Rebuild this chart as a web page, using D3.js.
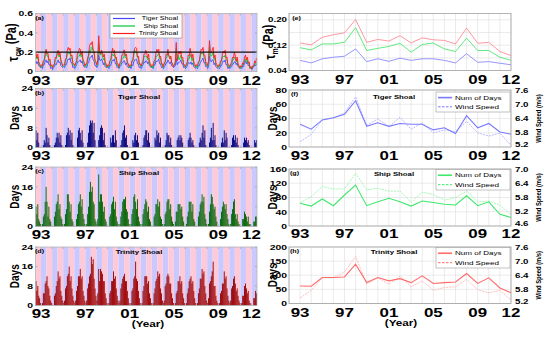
<!DOCTYPE html>
<html><head><meta charset="utf-8">
<script src="https://cdn.jsdelivr.net/npm/d3@7/dist/d3.min.js"></script>
<style>body{margin:0;background:#fff}</style>
</head><body><svg id="c" width="550" height="338"></svg>
<script>
// ---------------- DATA ----------------
const years = [1993,1994,1995,1996,1997,1998,1999,2000,2001,2002,2003,2004,2005,2006,2007,2008,2009,2010,2011,2012];
const tickYears = [1993,1997,2001,2005,2009,2012];
const tickLabels = ["93","97","01","05","09","12"];
const shoals = ["Tiger Shoal","Ship Shoal","Trinity Shoal"];

// monthly mean bottom stress (Pa), Jan..Dec of each year 1993-2012
const tauTiger = [
.11,.08,.10,.06,.05,.04,.05,.03,.07,.07,.11,.12,
.09,.11,.07,.07,.03,.04,.02,.04,.05,.08,.07,.10,
.12,.09,.10,.06,.05,.04,.05,.04,.07,.07,.11,.13,
.12,.14,.09,.09,.04,.05,.03,.05,.07,.10,.10,.11,
.12,.09,.11,.07,.05,.04,.05,.04,.08,.09,.13,.15,
.15,.17,.12,.11,.06,.06,.04,.06,.17,.12,.11,.13,
.11,.07,.09,.05,.04,.04,.05,.03,.06,.06,.10,.12,
.11,.13,.08,.08,.04,.05,.03,.05,.06,.09,.09,.11,
.11,.07,.09,.05,.04,.04,.05,.03,.07,.06,.10,.12,
.12,.13,.08,.08,.04,.05,.03,.05,.07,.10,.09,.11,
.11,.08,.10,.06,.05,.04,.05,.03,.07,.07,.11,.10,
.11,.13,.08,.08,.04,.05,.03,.05,.06,.09,.09,.12,
.10,.08,.10,.06,.05,.04,.05,.06,.14,.07,.09,.09,
.10,.12,.08,.08,.04,.05,.03,.04,.06,.09,.09,.08,
.10,.07,.09,.05,.04,.03,.04,.03,.06,.06,.09,.11,
.12,.14,.09,.09,.05,.06,.03,.05,.16,.11,.10,.12,
.12,.07,.09,.05,.04,.03,.04,.03,.06,.06,.09,.11,
.10,.12,.07,.07,.03,.05,.03,.04,.05,.08,.08,.10,
.10,.07,.09,.05,.04,.03,.04,.03,.06,.05,.09,.11,
.08,.10,.06,.07,.03,.04,.02,.04,.05,.07,.06,.08];
const tauShip = [
.17,.13,.15,.08,.07,.04,.06,.05,.10,.11,.16,.22,
.16,.16,.11,.12,.05,.06,.04,.06,.07,.12,.13,.18,
.19,.15,.17,.10,.08,.05,.06,.06,.11,.13,.19,.20,
.18,.20,.14,.14,.07,.07,.05,.08,.09,.15,.16,.16,
.19,.15,.17,.10,.08,.05,.07,.06,.12,.15,.22,.19,
.25,.26,.20,.18,.10,.09,.06,.11,.29,.18,.17,.21,
.16,.12,.14,.08,.06,.04,.06,.05,.09,.10,.16,.18,
.16,.18,.13,.13,.06,.06,.04,.07,.08,.13,.14,.14,
.19,.14,.15,.09,.07,.04,.06,.05,.10,.11,.17,.22,
.20,.20,.14,.14,.07,.07,.05,.08,.09,.15,.16,.16,
.15,.12,.14,.07,.06,.04,.06,.04,.09,.10,.15,.16,
.17,.19,.13,.14,.07,.07,.04,.08,.09,.14,.15,.19,
.16,.15,.16,.10,.08,.05,.07,.09,.24,.13,.17,.12,
.14,.17,.12,.12,.06,.06,.04,.07,.08,.13,.13,.18,
.15,.11,.14,.07,.06,.04,.06,.04,.09,.10,.15,.19,
.18,.20,.15,.14,.07,.07,.05,.09,.26,.16,.16,.17,
.20,.12,.14,.07,.06,.04,.06,.05,.09,.10,.15,.16,
.15,.17,.12,.12,.05,.06,.04,.07,.07,.12,.12,.15,
.13,.10,.12,.06,.05,.03,.05,.04,.08,.07,.12,.13,
.10,.12,.08,.09,.03,.05,.03,.05,.05,.08,.08,.10];
const tauTrinity = [
.19,.14,.18,.10,.08,.05,.07,.06,.11,.12,.19,.23,
.18,.19,.12,.13,.06,.07,.04,.07,.08,.15,.14,.20,
.22,.17,.20,.12,.09,.06,.07,.07,.13,.14,.22,.25,
.22,.24,.16,.17,.09,.08,.06,.09,.11,.19,.19,.24,
.23,.17,.21,.12,.10,.06,.08,.08,.14,.17,.26,.29,
.28,.31,.22,.21,.12,.10,.07,.12,.37,.21,.18,.22,
.20,.15,.18,.10,.08,.05,.07,.06,.11,.12,.19,.24,
.19,.22,.14,.15,.08,.08,.05,.09,.10,.17,.17,.22,
.22,.16,.18,.10,.08,.05,.07,.06,.11,.12,.20,.24,
.25,.24,.15,.16,.08,.08,.06,.09,.11,.18,.18,.22,
.19,.14,.18,.10,.08,.05,.07,.06,.11,.12,.19,.23,
.20,.23,.15,.16,.08,.08,.05,.09,.10,.18,.17,.23,
.16,.13,.16,.09,.08,.05,.07,.10,.30,.11,.18,.21,
.18,.21,.14,.15,.07,.07,.05,.08,.10,.17,.16,.24,
.19,.14,.18,.10,.08,.05,.07,.06,.10,.11,.18,.23,
.22,.25,.17,.17,.09,.09,.06,.11,.32,.20,.19,.22,
.25,.14,.17,.09,.07,.05,.07,.06,.11,.11,.18,.21,
.19,.22,.14,.15,.07,.07,.05,.08,.09,.15,.14,.20,
.16,.11,.15,.08,.06,.04,.06,.05,.09,.08,.15,.17,
.12,.15,.09,.10,.04,.05,.03,.06,.06,.11,.09,.14];

// monthly number of days above threshold, Jan..Dec 1993-2012
const daysTiger = [
7,3,6,2,0,0,0,0,1,3,2,8,
5,2,4,1,0,0,0,0,1,2,4,6,
4,6,2,5,1,0,0,0,1,5,6,8,
5,7,3,6,1,0,0,0,0,4,7,8,
6,3,7,2,0,0,0,0,2,6,9,11,
10,11,6,10,3,0,0,0,3,5,8,9,
8,3,6,1,0,0,0,0,0,4,2,5,
5,2,7,3,0,0,0,0,1,3,6,7,
9,4,5,1,0,0,0,0,0,3,2,5,
6,3,5,2,0,0,0,0,1,4,5,7,
7,3,6,2,0,0,0,0,0,4,3,7,
5,6,2,4,0,0,0,0,1,3,6,5,
5,2,4,1,0,0,0,0,0,3,4,5,
3,5,4,2,0,0,0,0,0,3,4,6,
4,2,3,1,0,0,0,0,0,2,4,3,
6,9,4,7,1,0,0,0,2,4,8,3,
10,3,5,1,0,0,0,0,0,2,4,2,
7,3,6,4,0,0,0,0,1,4,5,3,
5,2,4,1,0,0,0,0,0,2,4,3,
4,2,3,1,0,0,0,0,0,3,2,3];
const daysShip = [
8,5,9,3,2,1,0,1,4,5,10,16,
10,4,8,3,2,0,0,0,4,6,9,10,
13,7,9,4,3,1,0,1,5,7,13,13,
10,6,9,3,2,0,0,0,3,5,9,10,
13,8,11,5,3,1,0,1,5,8,14,18,
14,16,10,9,3,2,1,3,21,10,13,13,
10,6,8,3,2,0,0,0,4,5,9,10,
12,7,10,4,2,1,0,1,4,6,10,11,
11,12,7,6,3,1,0,1,5,7,12,13,
10,7,11,4,2,1,0,1,5,7,9,11,
10,6,8,3,2,0,0,0,4,5,9,9,
11,8,10,4,3,1,0,1,5,6,10,11,
11,7,9,4,2,1,0,2,6,6,9,9,
9,7,8,4,2,0,0,1,4,6,10,10,
10,6,9,3,2,0,0,0,4,6,9,10,
13,10,12,5,3,1,0,1,6,9,13,12,
9,7,8,4,2,0,0,0,3,6,8,10,
9,7,9,5,3,1,0,1,5,7,10,11,
5,3,5,2,1,0,0,0,3,3,6,5,
4,2,4,1,1,0,0,0,2,2,4,4];
const daysTrinity = [
10,6,8,4,3,1,0,1,5,5,9,10,
12,8,7,4,2,1,0,0,4,5,8,10,
14,11,12,6,4,2,1,2,7,8,12,13,
16,10,12,7,4,2,1,2,6,8,12,12,
15,11,12,6,4,2,1,2,7,9,12,13,
20,17,19,11,7,4,2,5,15,10,15,14,
13,10,10,5,3,1,0,1,5,6,10,10,
14,11,12,7,4,2,1,2,7,9,11,12,
13,10,10,6,3,1,0,1,6,7,11,12,
18,11,10,6,3,1,0,1,6,8,12,12,
12,9,10,5,3,1,0,1,5,7,10,11,
14,12,13,7,5,2,1,2,8,9,12,13,
12,9,9,5,3,1,0,1,5,6,10,10,
12,9,10,5,3,1,0,1,5,7,10,11,
12,9,10,6,3,1,0,1,5,7,11,11,
15,13,14,8,5,2,1,3,9,10,12,14,
18,8,8,4,2,1,0,1,5,6,9,9,
14,11,12,7,4,2,1,2,7,8,11,12,
9,6,7,4,2,1,0,1,4,4,8,9,
7,5,6,2,1,0,0,0,3,3,6,5];

// annual mean stress (Pa)
const tauAnnTiger   = [.072,.064,.077,.082,.085,.108,.068,.077,.069,.079,.072,.077,.077,.072,.064,.093,.066,.068,.063,.058];
const tauAnnShip    = [.112,.105,.124,.124,.129,.175,.103,.110,.116,.126,.098,.122,.127,.108,.100,.142,.103,.103,.082,.072];
const tauAnnTrinity = [.127,.121,.145,.153,.159,.201,.129,.138,.133,.150,.127,.143,.137,.135,.124,.174,.126,.129,.100,.087];
// annual number of days and wind speed (m/s)
const numDaysTiger   = [32,25,38,41,46,65,29,34,29,33,32,32,24,27,19,44,27,33,21,18];
const windTiger      = [5.42,5.73,6.35,6.42,6.64,7.31,6.11,6.38,6.06,6.45,5.95,6.21,5.80,5.92,5.85,6.28,5.80,5.66,5.78,5.27];
const numDaysShip    = [64,56,76,57,87,115,57,68,78,68,56,70,66,61,59,85,57,68,33,24];
const windShip       = [5.58,5.83,6.26,6.16,6.16,6.82,6.12,6.19,6.07,6.07,5.60,6.02,5.93,5.69,5.79,6.07,5.62,5.65,5.48,5.06];
const numDaysTrinity = [62,61,92,92,94,139,74,92,80,88,74,98,71,74,76,106,71,91,55,38];
const windTrinity    = [5.44,5.76,6.30,6.29,6.54,7.20,6.02,6.29,6.02,6.36,5.91,6.16,5.76,5.88,5.91,6.22,5.79,5.65,5.76,5.34];

// ---------------- DRAWING ----------------
const FONT = '"Liberation Sans", Arial, Helvetica, sans-serif';
const SX = 1.3;
const PINK = "#ffcad8", BLUE = "#c9c9ff";
const svg = d3.select("#c");

function txt(x, y, s, o = {}) {
  const t = svg.append("text")
    .attr("transform", o.rot ? `translate(${x},${y}) rotate(-90) scale(1,${SX})` : `translate(${x},${y}) scale(${SX},1)`)
    .attr("text-anchor", o.anchor || "middle")
    .attr("dy", "0.35em")
    .attr("font-size", o.size || 8)
    .attr("font-weight", o.weight || "bold")
    .attr("fill", o.fill || "#000")
    .style("font-family", FONT);
  if (typeof s === "string") t.text(s); else s(t);
  return t;
}

const months = [];
years.forEach((yr, yi) => { for (let m = 0; m < 12; m++) months.push({ t: yr + m / 12, i: yi * 12 + m }); });

// ---- left column ----
const xL = d3.scaleLinear().domain([1993, 2013]).range([35.5, 257]);
const leftPanels = [
  { top: 13.5, bot: 71.5, dom: [0, 0.6], ticks: [0, 0.2, 0.4, 0.6], fmt: d => d === 0 ? "0" : d.toFixed(1), lab: "(a)", xlab: 80 },
  { top: 88.5, bot: 147.5, dom: [0, 24], ticks: [0, 8, 16, 24], fmt: d => String(d), lab: "(b)", xlab: 155, title: shoals[0], data: daysTiger, color: "#00007a", ty: 97 },
  { top: 167, bot: 226.5, dom: [0, 24], ticks: [0, 8, 16, 24], fmt: d => String(d), lab: "(c)", xlab: 234, title: shoals[1], data: daysShip, color: "#006400", ty: 173 },
  { top: 247, bot: 305.5, dom: [0, 24], ticks: [0, 8, 16, 24], fmt: d => String(d), lab: "(d)", xlab: 313, title: shoals[2], data: daysTrinity, color: "#9a0000", ty: 252 }
];

leftPanels.forEach((p, k) => {
  const y = d3.scaleLinear().domain(p.dom).range([p.bot, p.top]);
  const g = svg.append("g");
  years.forEach(yr => {
    g.append("rect").attr("x", xL(yr)).attr("y", p.top).attr("width", xL(yr + 0.5) - xL(yr)).attr("height", p.bot - p.top).attr("fill", PINK);
    g.append("rect").attr("x", xL(yr + 0.5)).attr("y", p.top).attr("width", xL(yr + 1) - xL(yr + 0.5)).attr("height", p.bot - p.top).attr("fill", BLUE);
  });
  if (p.data) {
    g.selectAll(".bar").data(months).join("rect")
      .attr("x", d => xL(d.t)).attr("width", d => xL(d.t + 1 / 12) - xL(d.t))
      .attr("y", d => y(p.data[d.i])).attr("height", d => p.bot - y(p.data[d.i]))
      .attr("fill", p.color);
  } else {
    const series = [[tauTiger, "#4646ff"], [tauShip, "#00c83c"], [tauTrinity, "#ff1e1e"]];
    series.forEach(([arr, c]) => {
      g.append("path").datum(months)
        .attr("d", d3.line().x(d => xL(d.t + 1 / 24)).y(d => y(arr[d.i])))
        .attr("fill", "none").attr("stroke", c).attr("stroke-width", 0.9);
    });
    g.append("line").attr("x1", xL(1993)).attr("x2", xL(2013)).attr("y1", y(0.2)).attr("y2", y(0.2))
      .attr("stroke", "#111").attr("stroke-width", 1.4);
  }
  years.forEach(yr => {
    g.append("line").attr("x1", xL(yr + 0.5)).attr("x2", xL(yr + 0.5)).attr("y1", p.top).attr("y2", p.top + 2).attr("stroke", "#999").attr("stroke-width", 0.6);
    g.append("line").attr("x1", xL(yr + 0.5)).attr("x2", xL(yr + 0.5)).attr("y1", p.bot).attr("y2", p.bot - 2).attr("stroke", "#999").attr("stroke-width", 0.6);
  });
  p.ticks.forEach(v => {
    g.append("line").attr("x1", 35.5).attr("x2", 37.5).attr("y1", y(v)).attr("y2", y(v)).attr("stroke", "#999").attr("stroke-width", 0.6);
    g.append("line").attr("x1", 257).attr("x2", 255).attr("y1", y(v)).attr("y2", y(v)).attr("stroke", "#999").attr("stroke-width", 0.6);
    txt(33, y(v), p.fmt(v), { anchor: "end", size: 8 });
  });
  g.append("rect").attr("x", 35.5).attr("y", p.top).attr("width", 257 - 35.5).attr("height", p.bot - p.top)
    .attr("fill", "none").attr("stroke", "#b4b4b4").attr("stroke-width", 0.8);
  tickYears.forEach((yr, j) => txt(xL(yr + 0.5), p.xlab, tickLabels[j], { size: 13 }));
  txt(39.5, p.top + 4.5, p.lab, { size: 5.5, anchor: "middle" });
  if (p.title) txt(139, p.ty, p.title, { size: 6 });
  if (k === 0) {
    txt(13, (p.top + p.bot) / 2, t => {
      t.append("tspan").text("τ");
      t.append("tspan").attr("font-size", 7).attr("dy", "0.3em").text("cw");
      t.append("tspan").attr("dy", "-0.3em").text(" (Pa)");
    }, { rot: true, size: 11 });
  } else {
    txt(14, (p.top + p.bot) / 2, "Days", { rot: true, size: 10 });
  }
});
(function () {
  const lg = svg.append("g");
  lg.append("rect").attr("x", 110).attr("y", 14).attr("width", 72).attr("height", 24).attr("fill", "#fff").attr("stroke", "#888").attr("stroke-width", 0.6);
  [["#4646ff", 18.5], ["#00c83c", 26], ["#ff1e1e", 33.5]].forEach(([c, yy], j) => {
    lg.append("line").attr("x1", 113).attr("x2", 135).attr("y1", yy).attr("y2", yy).attr("stroke", c).attr("stroke-width", 1.2);
    txt(178, yy, shoals[j], { anchor: "end", size: 5.5, weight: "normal" });
  });
})();
txt(148, 323.5, "(Year)", { size: 9 });

// ---- right column ----
const xR = d3.scaleLinear().domain([1992, 2012]).range([289, 511]);
function rightFrame(top, bot, yTicks, y) {
  const g = svg.append("g");
  g.append("rect").attr("x", 289).attr("y", top).attr("width", 222).attr("height", bot - top).attr("fill", "#fff");
  d3.range(0, 21).forEach(k => {
    const yr = 1992 + k;
    g.append("line").attr("x1", xR(yr)).attr("x2", xR(yr)).attr("y1", top).attr("y2", bot).attr("stroke", "#dedede").attr("stroke-width", 0.6);
  });
  yTicks.forEach(v => g.append("line").attr("x1", 289).attr("x2", 511).attr("y1", y(v)).attr("y2", y(v)).attr("stroke", "#dedede").attr("stroke-width", 0.6));
  return g;
}
function rightBorder(top, bot, xlab) {
  svg.append("rect").attr("x", 289).attr("y", top).attr("width", 222).attr("height", bot - top)
    .attr("fill", "none").attr("stroke", "#a0a0a0").attr("stroke-width", 0.8);
  tickYears.forEach((yr, j) => txt(xR(yr), xlab, tickLabels[j], { size: 13 }));
}

(function () {
  const top = 13.5, bot = 70.5;
  const y = d3.scaleLinear().domain([0.04, 0.22]).range([bot, top]);
  const g = rightFrame(top, bot, [0.08, 0.12, 0.16, 0.20], y);
  [[tauAnnTrinity, "#ff8c96"], [tauAnnShip, "#4ee86e"], [tauAnnTiger, "#8a8aff"]].forEach(([arr, c]) => {
    g.append("path").datum(years).attr("d", d3.line().x(d => xR(d)).y((d, i) => y(arr[i])))
      .attr("fill", "none").attr("stroke", c).attr("stroke-width", 0.9);
  });
  rightBorder(top, bot, 79.5);
  [0.04, 0.12, 0.20].forEach(v => txt(287, y(v), v.toFixed(2), { anchor: "end", size: 7.5 }));
  txt(296.5, top + 4.5, "(e)", { size: 5.5 });
  txt(270, (top + bot) / 2, t => {
    t.append("tspan").text("τ");
    t.append("tspan").attr("font-size", 7).attr("dy", "0.3em").text("m");
    t.append("tspan").attr("dy", "-0.3em").text(" (Pa)");
  }, { rot: true, size: 11 });
})();

const rightPanels = [
  { top: 90, bot: 147, dom: [0, 80], ticks: [0, 20, 40, 60, 80], wdom: [5.2, 7.6], wticks: [5.2, 5.8, 6.4, 7.0, 7.6], nd: numDaysTiger, ws: windTiger, c1: "#7a7aff", c2: "#a8a8ff", lab: "(f)", title: shoals[0], ty: 97, xlab: 155, leg: [92, 112] },
  { top: 169, bot: 226, dom: [0, 160], ticks: [0, 40, 80, 120, 160], wdom: [4.6, 7.0], wticks: [4.6, 5.2, 5.8, 6.4, 7.0], nd: numDaysShip, ws: windShip, c1: "#3ee86a", c2: "#8cf5a6", lab: "(g)", title: shoals[1], ty: 174, xlab: 233.5, leg: [169.5, 190] },
  { top: 247, bot: 303.5, dom: [0, 200], ticks: [0, 50, 100, 150, 200], wdom: [5.2, 7.6], wticks: [5.2, 5.8, 6.4, 7.0, 7.6], nd: numDaysTrinity, ws: windTrinity, c1: "#ff6a6a", c2: "#ffadad", lab: "(h)", title: shoals[2], ty: 252, xlab: 312, leg: [247.5, 268] }
];
rightPanels.forEach(p => {
  const y = d3.scaleLinear().domain(p.dom).range([p.bot, p.top]);
  const yw = d3.scaleLinear().domain(p.wdom).range([p.bot, p.top]);
  const g = rightFrame(p.top, p.bot, p.ticks, y);
  g.append("path").datum(years).attr("d", d3.line().x(d => xR(d)).y((d, i) => yw(p.ws[i])))
    .attr("fill", "none").attr("stroke", p.c2).attr("stroke-width", 0.8).attr("stroke-dasharray", "2,1");
  g.append("path").datum(years).attr("d", d3.line().x(d => xR(d)).y((d, i) => y(p.nd[i])))
    .attr("fill", "none").attr("stroke", p.c1).attr("stroke-width", 1.1);
  rightBorder(p.top, p.bot, p.xlab);
  p.ticks.forEach(v => txt(287, y(v), String(v), { anchor: "end", size: 8 }));
  p.wticks.forEach(v => txt(515, Math.min(yw(v), p.bot - 2.5), v.toFixed(1), { anchor: "start", size: 7.5 }));
  txt(294.5, p.top + 4, p.lab, { size: 5.5 });
  txt(394, p.ty, p.title, { size: 6 });
  txt(272, (p.top + p.bot) / 2, "Days", { rot: true, size: 10 });
  txt(538, (p.top + p.bot) / 2, "Wind Speed (m/s)", { rot: true, size: 5.8 });
  const [l0, l1] = p.leg;
  svg.append("rect").attr("x", 436).attr("y", l0).attr("width", 74).attr("height", l1 - l0)
    .attr("fill", "#fff").attr("stroke", "#999").attr("stroke-width", 0.6);
  const e1 = l0 + (l1 - l0) * 0.28, e2 = l0 + (l1 - l0) * 0.74;
  svg.append("line").attr("x1", 438).attr("x2", 452).attr("y1", e1).attr("y2", e1).attr("stroke", p.c1).attr("stroke-width", 1.6);
  svg.append("line").attr("x1", 438).attr("x2", 452).attr("y1", e2).attr("y2", e2).attr("stroke", p.c1).attr("stroke-width", 1).attr("stroke-dasharray", "2.5,1.5");
  txt(455, e1, "Num of Days", { anchor: "start", size: 6.2, weight: "normal" });
  txt(455, e2, "Wind Speed", { anchor: "start", size: 6.2, weight: "normal" });
});
txt(401, 323, "(Year)", { size: 9 });
</script></body></html>
